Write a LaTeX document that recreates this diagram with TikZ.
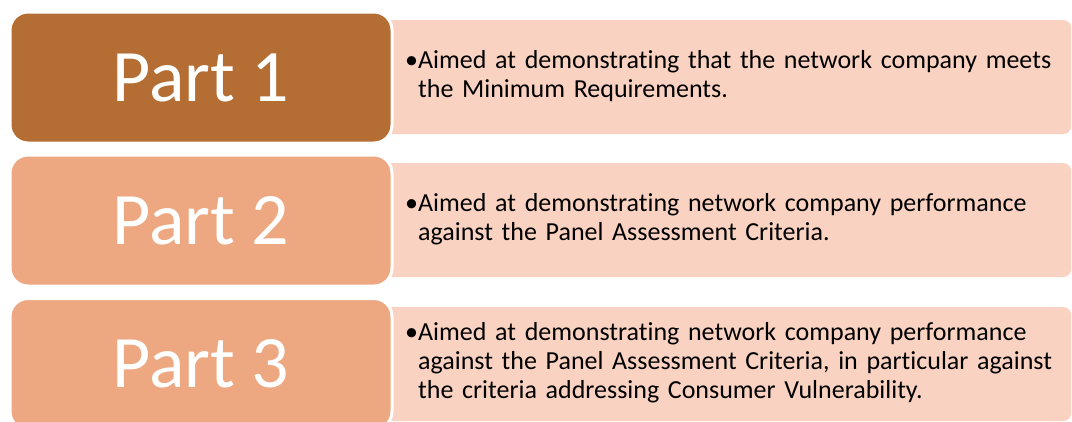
\documentclass[tikz,border=0pt]{standalone}
\usepackage{xcolor}
\usepackage{fontspec}
\setmainfont{Carlito}[Ligatures=NoCommon]
\usetikzlibrary{positioning}

\definecolor{partdark}{RGB}{180,109,51}
\definecolor{partlight}{RGB}{237,168,130}
\definecolor{aimfill}{RGB}{250,210,193}

\begin{document}
\begin{tikzpicture}[
    x=1pt, y=-1pt,
    part/.style={rectangle, rounded corners=18pt, draw=white, line width=3pt, minimum width=382pt, minimum height=131pt, text=white, font=\fontsize{74}{80}\selectfont},
    aim/.style={rectangle, rounded corners=8pt, fill=aimfill, anchor=west, minimum height=114pt, text width=636pt, inner xsep=30pt, align=left, font=\fontsize{26}{29}\selectfont},
]
    \useasboundingbox (0,0) rectangle (1072,421);

    % Aim 1
    \node[aim] (aim1) at (375,77) {\textbullet\begin{tabular}[t]{@{}l@{}}Aimed at demonstrating that the network company meets\\the Minimum Requirements.\end{tabular}};

    % Aim 2
    \node[aim] (aim2) at (375,220) {\textbullet\begin{tabular}[t]{@{}l@{}}Aimed at demonstrating network company performance\\against the Panel Assessment Criteria.\end{tabular}};

    % Aim 3
    \node[aim] (aim3) at (375,364) {\textbullet\begin{tabular}[t]{@{}l@{}}Aimed at demonstrating network company performance\\against the Panel Assessment Criteria, in particular against\\the criteria addressing Consumer Vulnerability.\end{tabular}};

    % Part 1
    \node[part, fill=partdark] (part1) at (201,77.5) {Part 1};

    % Part 2
    \node[part, fill=partlight] (part2) at (201,220.5) {Part 2};

    % Part 3
    \node[part, fill=partlight] (part3) at (201,364) {Part 3};
\end{tikzpicture}
\end{document}
